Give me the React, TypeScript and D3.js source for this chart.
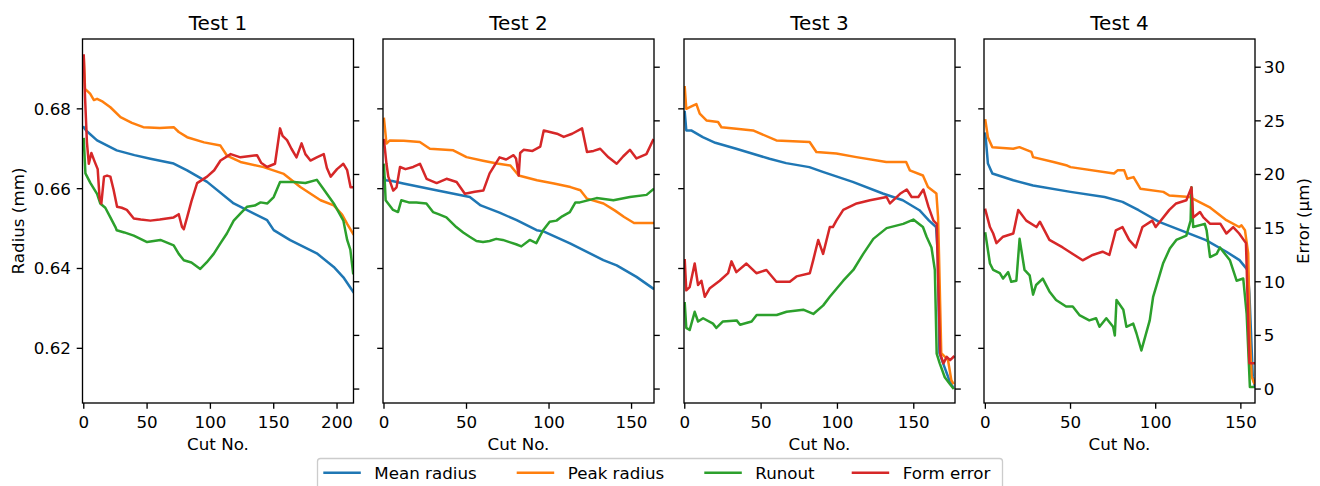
import React from "react";
import * as d3 from "d3";

type P = [number, number];

const titles = ["Test 1", "Test 2", "Test 3", "Test 4"];
const seriesNames = ["Mean radius", "Peak radius", "Runout", "Form error"];
const seriesColors = ["#1f77b4", "#ff7f0e", "#2ca02c", "#d62728"];
const radiusTicks = [0.62, 0.64, 0.66, 0.68];
const errorTicks = [0, 5, 10, 15, 20, 25, 30];
const cutTicks = [
  [0, 50, 100, 150, 200],
  [0, 50, 100, 150],
  [0, 50, 100, 150],
  [0, 50, 100, 150],
];
const cutDomains: P[] = [[-1, 213], [-0.6, 163.6], [-0.5, 177], [-0.8, 158.3]];
const radiusDomain: P = [0.6063, 0.6975];
const errorDomain: P = [-1.3, 32.63];

// ---- Test 1
const t1Mean: P[] = [[0,0.6754],[2,0.6745],[10.5,0.6721],[26,0.6696],[40,0.6684],[52.6,0.6675],[71,0.6663],[81.6,0.6646],[97.4,0.6617],[118.4,0.6563],[144.8,0.6521],[150,0.6496],[163,0.6471],[184,0.6438],[197.4,0.6404],[205,0.6378],[212.7,0.6342]];
const t1Peak: P[] = [[0,0.6929],[1,0.685],[5,0.6838],[8,0.6822],[10.5,0.6825],[15,0.6818],[21,0.6804],[29,0.6779],[38,0.6765],[47,0.6754],[60,0.6752],[71,0.6754],[75,0.6742],[81.6,0.6729],[95,0.6716],[107.9,0.6708],[113,0.6683],[123.7,0.6667],[142,0.6654],[158,0.6637],[171,0.6604],[187,0.6571],[197.4,0.6558],[204,0.6535],[208,0.6512],[212.7,0.6487]];
const t1Runout: P[] = [[0,23.3],[1.3,20.1],[5.3,19.2],[10.5,18.2],[13,17.3],[17,16.9],[21,16.0],[25,15.1],[26,14.8],[32,14.6],[39.5,14.3],[50,13.7],[60.5,13.9],[71,13.4],[75,12.6],[79,12.0],[85,11.8],[92,11.2],[97,11.8],[102.6,12.6],[108,13.6],[113,14.5],[118.4,15.7],[124,16.4],[129,17.0],[135,17.1],[139.6,17.4],[145,17.3],[150,17.9],[155,19.3],[166,19.3],[175,19.2],[184,19.5],[189,18.7],[197.4,17.3],[205,15.7],[208,13.9],[210.5,13.0],[212.7,10.8]];
const t1Form: P[] = [[0,31.1],[1,27.2],[2.5,23.0],[4,21.0],[6,22.0],[8.6,21.2],[11,20.5],[12.5,17.8],[13.9,17.3],[16,19.8],[18.4,19.9],[21,19.8],[23.5,18.6],[26.3,17.0],[30,16.9],[34,16.7],[39.5,15.9],[45,15.8],[52.6,15.7],[60,15.8],[71,16.0],[75,16.3],[77.6,15.1],[79,14.9],[81.6,16.0],[85,17.5],[89.5,19.2],[97.4,19.8],[103,20.4],[108,21.3],[116,21.9],[123.7,21.6],[130,21.7],[136.8,21.8],[140,21.1],[144.8,20.7],[151,21.0],[155,24.3],[157,23.6],[160.5,23.2],[164,22.4],[168,21.6],[172,22.9],[175,21.9],[179,21.3],[184,21.6],[189.5,21.9],[192,20.6],[195,19.8],[200,20.5],[205,21.0],[208,20.4],[210.7,18.8],[212.7,18.8]];

// ---- Test 2
const t2Mean: P[] = [[0,0.6629],[1,0.6621],[5,0.6619],[11.7,0.6613],[31.7,0.6596],[52,0.6579],[58.6,0.6558],[70,0.654],[80.4,0.6521],[92.5,0.6496],[96.6,0.6493],[112.7,0.6463],[132.9,0.6421],[141,0.6408],[153,0.6379],[163,0.635]];
const t2Peak: P[] = [[0,0.6775],[1.5,0.6713],[3.5,0.6721],[12,0.672],[21.7,0.6717],[27.8,0.67],[42,0.6696],[50,0.6679],[60,0.667],[68.5,0.6663],[76.6,0.6658],[81.6,0.6633],[92.7,0.6621],[103,0.6613],[113,0.6604],[119,0.6596],[123,0.6575],[133,0.6563],[140,0.6545],[145.5,0.6529],[151.5,0.6514],[163,0.6514]];
const t2Runout: P[] = [[0,20.9],[1,17.6],[5.5,16.7],[8.5,16.5],[10.5,17.6],[15,17.4],[19.6,17.4],[25.7,17.3],[29.7,16.5],[33,16.3],[37.8,16.0],[43.8,15.1],[48,14.6],[51.9,14.2],[56,13.8],[60,13.7],[64,13.8],[68,14.0],[72,13.9],[76,13.7],[80,13.5],[83.2,13.3],[88.3,13.9],[92.3,13.6],[96.4,14.8],[100.4,15.6],[104.5,15.7],[108,16.1],[112.6,16.5],[116,17.4],[118.7,17.4],[128.8,17.8],[139,17.6],[149,17.9],[159.1,18.1],[163,18.6]];
const t2Form: P[] = [[0,23.2],[1.5,21.0],[2.6,19.8],[5.6,18.5],[7.6,18.8],[9.7,20.7],[13,20.5],[17.7,20.7],[21.8,21.0],[25.8,19.6],[31.9,19.2],[37.9,19.6],[44,19.3],[49,18.2],[55,18.4],[60.2,18.5],[64,20.1],[70,21.6],[74,21.4],[78.5,21.8],[80,21.5],[81.6,19.9],[82.5,22.0],[84.6,22.3],[90,22.2],[94.7,22.6],[96.8,24.1],[104.8,23.8],[108.9,23.5],[114,23.8],[120,24.3],[123,22.1],[127,22.2],[131,22.4],[136,21.6],[141,21.0],[145,21.7],[149,22.3],[153,21.5],[159,21.9],[163,23.2]];

// ---- Test 3
const t3Mean: P[] = [[0,0.6792],[1,0.6746],[4.2,0.6746],[11.8,0.6729],[20,0.6715],[33.7,0.67],[55.5,0.6675],[66.4,0.6664],[81.6,0.6654],[90.4,0.6642],[110,0.6617],[129.7,0.6588],[142.8,0.6571],[153.7,0.6546],[160,0.652],[164.6,0.6504],[165.7,0.6438],[166.8,0.6188],[170,0.6154],[173.3,0.612],[175.5,0.6104]];
const t3Peak: P[] = [[0,0.6854],[1,0.68],[5.4,0.6808],[7.6,0.6812],[9.8,0.6788],[14.2,0.6771],[21.8,0.6767],[24,0.6754],[33.8,0.675],[44.7,0.6746],[60,0.6721],[81.8,0.6717],[86.2,0.6692],[99.3,0.6688],[112.4,0.6679],[132,0.6667],[145,0.6667],[147.4,0.6646],[156,0.6633],[159.3,0.6604],[164.8,0.6588],[165.9,0.6529],[166.5,0.6438],[168,0.6188],[172.4,0.6171],[174.6,0.612],[175.7,0.6113]];
const t3Runout: P[] = [[0,8.0],[1,5.7],[3.2,5.5],[6.5,7.2],[8.7,6.3],[12,6.6],[18.5,6.1],[20.7,5.7],[25,6.3],[34,6.4],[36.2,6.0],[43.8,6.3],[47.1,6.9],[55.8,6.9],[60.2,6.9],[66.7,7.2],[77.6,7.4],[84.2,7.0],[90.7,7.8],[95,8.6],[103.8,10.1],[110.4,11.1],[116.9,12.6],[123.5,14.0],[132.2,15.0],[143.1,15.4],[149.7,15.8],[156,15.1],[158.4,14.2],[161.6,13.2],[163.8,11.1],[165,3.3],[167,2.4],[170.3,1.1],[173.5,0.5],[175.7,0.1]];
const t3Form: P[] = [[0,12.0],[1,9.2],[3.2,9.5],[6.5,11.7],[8.7,9.7],[10.9,10.1],[13.1,8.6],[16.4,9.4],[22.9,10.1],[28.4,10.8],[30.6,11.9],[33.8,10.9],[40.4,11.7],[46.9,10.8],[53.5,11.1],[60,10.0],[68.8,10.0],[73.2,10.5],[81.9,10.8],[84.1,12.0],[87.4,13.9],[90.6,12.6],[95,15.1],[97,15.1],[99.3,15.7],[103.8,16.7],[112.6,17.3],[121.3,17.6],[132.2,17.9],[134.4,17.3],[141,18.2],[145.4,18.6],[148.6,17.9],[153,17.9],[156.3,18.6],[159.6,17.0],[162.9,15.7],[165,15.4],[167.3,3.3],[169.4,2.4],[171.6,3.0],[173.8,2.7],[176,3.0]];

// ---- Test 4
const t4Mean: P[] = [[0,0.6738],[1.5,0.6663],[4.1,0.6638],[16.4,0.6621],[28,0.6608],[50,0.6592],[70,0.6579],[80.5,0.6567],[90,0.6546],[102,0.6517],[117.5,0.6491],[129.5,0.6471],[141.5,0.6442],[149.2,0.6421],[154,0.6396],[155,0.6338],[157,0.6129],[158.3,0.6104]];
const t4Peak: P[] = [[0,0.6771],[1.5,0.6729],[4.1,0.6704],[16.4,0.67],[20,0.6704],[27,0.6692],[28,0.6679],[40,0.6667],[48,0.6658],[50,0.6654],[75.5,0.6638],[77.6,0.6646],[81.5,0.6646],[83.3,0.6625],[87,0.6629],[91,0.66],[104.5,0.6592],[108,0.6583],[120,0.6579],[131.5,0.6554],[141.5,0.6521],[149,0.6504],[150.4,0.6508],[152.4,0.6496],[154.3,0.6438],[155.3,0.6229],[156.3,0.6129],[157.8,0.6113]];
const t4Runout: P[] = [[0,14.5],[2.7,11.7],[4.6,11.1],[8.5,10.8],[10.4,10.3],[13.4,10.9],[15.2,10.0],[18.2,10.1],[20.1,14.0],[23,11.1],[26,10.6],[28,8.8],[29.8,9.7],[33.7,10.3],[37.6,9.1],[41.5,8.3],[47.4,7.7],[51.3,7.7],[55.2,6.9],[61,6.4],[65,6.6],[67,5.8],[71,6.6],[75,5.8],[76,5.0],[77,8.3],[81,7.4],[82.8,5.8],[86.8,6.1],[88.7,5.2],[91.6,3.6],[96.5,6.4],[98.5,8.6],[104.3,11.7],[108.3,13.1],[112.1,13.9],[118,14.3],[120.5,15.7],[121,18.8],[122,15.1],[128.8,15.4],[129.9,14.8],[131.9,12.3],[135.8,12.6],[137.7,13.2],[143.6,12.0],[147.5,10.1],[151.4,10.3],[153.4,7.0],[155.3,0.2],[157.3,0.2]];
const t4Form: P[] = [[0,16.7],[2.7,15.1],[4.6,14.5],[6.5,13.6],[10.4,14.2],[16.4,14.5],[19.3,16.7],[24,15.7],[30,15.1],[32,15.6],[37.6,13.9],[45.4,13.2],[49.3,12.8],[57.1,12.0],[63,12.5],[68.8,12.8],[72.8,12.5],[76.6,14.8],[80.5,15.1],[84.4,13.9],[88.3,13.2],[92.2,15.1],[98,15.7],[100,15.1],[108,16.7],[112,17.3],[118,17.6],[121,18.8],[122,16.0],[126,16.5],[128,16.0],[132,15.4],[138,15.4],[141.5,14.5],[145.5,15.1],[149,14.5],[153,13.6],[155,2.4],[158,2.4]];

const panelData = [
  [t1Mean, t1Peak, t1Runout, t1Form],
  [t2Mean, t2Peak, t2Runout, t2Form],
  [t3Mean, t3Peak, t3Runout, t3Form],
  [t4Mean, t4Peak, t4Runout, t4Form],
];

const W = 1320, H = 486;
const panelLeft = [82.5, 383, 684, 984];
const panelW = 271;
const top = 39, bottom = 403;
const FONT = "DejaVu Sans, sans-serif";
const TICK = 5.8;

export default function App() {
  const yL = d3.scaleLinear().domain(radiusDomain).range([bottom, top]);
  const yR = d3.scaleLinear().domain(errorDomain).range([bottom, top]);
  return (
    <svg width={W} height={H} style={{ position: "absolute", left: 0, top: 0, background: "#fff" }} fontFamily={FONT}>
      <defs>
        {panelLeft.map((l, i) => (
          <clipPath id={`clip${i}`} key={i}>
            <rect x={l} y={top} width={panelW} height={bottom - top} />
          </clipPath>
        ))}
      </defs>
      {panelLeft.map((l, i) => {
        const x = d3.scaleLinear().domain(cutDomains[i]).range([l, l + panelW]);
        const r = l + panelW;
        const lines = panelData[i].map((pts, s) => {
          const y = s < 2 ? yL : yR;
          const gen = d3.line<P>().x((d) => x(d[0])).y((d) => y(d[1]));
          return (
            <path key={s} d={gen(pts) || ""} fill="none" stroke={seriesColors[s]} strokeWidth={2.5} strokeLinejoin="round" strokeLinecap="square" />
          );
        });
        return (
          <g key={i}>
            <g clipPath={`url(#clip${i})`}>{lines}</g>
            <rect x={l} y={top} width={panelW} height={bottom - top} fill="none" stroke="#000" strokeWidth={1.33} />
            <text x={l + panelW / 2} y={30} textAnchor="middle" fontSize={20}>{titles[i]}</text>
            {cutTicks[i].map((t) => (
              <g key={t}>
                <line x1={x(t)} x2={x(t)} y1={bottom} y2={bottom + TICK} stroke="#000" strokeWidth={1.33} />
                <text x={x(t)} y={428} textAnchor="middle" fontSize={16.7}>{t}</text>
              </g>
            ))}
            <text x={l + panelW / 2} y={450} textAnchor="middle" fontSize={16.7}>Cut No.</text>
            {radiusTicks.map((t) => (
              <g key={t}>
                <line x1={l - TICK} x2={l} y1={yL(t)} y2={yL(t)} stroke="#000" strokeWidth={1.33} />
                {i === 0 && (
                  <text x={l - TICK - 5.8} y={yL(t)} dy="0.35em" textAnchor="end" fontSize={16.7}>{d3.format(".2f")(t)}</text>
                )}
              </g>
            ))}
            {errorTicks.map((t) => (
              <g key={t}>
                <line x1={r} x2={r + TICK} y1={yR(t)} y2={yR(t)} stroke="#000" strokeWidth={1.33} />
                {i === 3 && (
                  <text x={r + TICK + 3} y={yR(t)} dy="0.35em" textAnchor="start" fontSize={16.7}>{t}</text>
                )}
              </g>
            ))}
          </g>
        );
      })}
      <text transform={`translate(24,${(top + bottom) / 2}) rotate(-90)`} textAnchor="middle" fontSize={16.7}>Radius (mm)</text>
      <text transform={`translate(1297,${(top + bottom) / 2}) rotate(-90)`} textAnchor="middle" dy="0.7em" fontSize={16.7}>Error (µm)</text>
      <g>
        <rect x={317.5} y={458.5} width={685} height={36} rx={3} fill="#fff" fillOpacity={0.8} stroke="#cccccc" strokeWidth={1.33} />
        {seriesNames.map((n, s) => {
          const lx = [323.3, 516.7, 704.3, 851.7][s];
          return (
            <g key={n}>
              <line x1={lx} x2={lx + 37.5} y1={472.7} y2={472.7} stroke={seriesColors[s]} strokeWidth={2.5} />
              <text x={lx + 51} y={478.5} fontSize={16.7}>{n}</text>
            </g>
          );
        })}
      </g>
    </svg>
  );
}
